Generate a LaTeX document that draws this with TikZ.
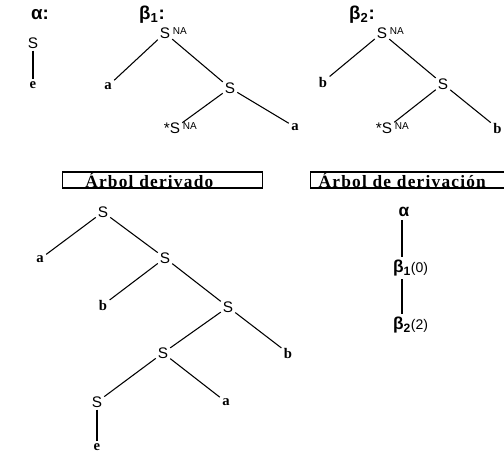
\documentclass[tikz,border=0pt]{standalone}
\usepackage{fontspec}
\setmainfont{Liberation Serif}
\setsansfont{Liberation Sans}
\newfontfamily\lblfont[LetterSpace=7]{Liberation Serif}
\newcommand{\NAsup}{\rlap{\hspace{2pt}\raisebox{0.45ex}{\fontsize{7.5}{8}\selectfont NA}}}
\begin{document}
\begin{tikzpicture}[x=0.75pt,y=-0.75pt,line width=0.8pt,
  snode/.style={font=\sffamily\fontsize{11.5}{12}\selectfont,inner sep=1.2pt},
  leaf/.style={font=\bfseries\fontsize{11}{12}\selectfont,inner sep=1.5pt},
  glbl/.style={font=\sffamily\bfseries\fontsize{14}{15}\selectfont,inner sep=1pt},
  dnode/.style={font=\sffamily\bfseries\fontsize{13}{14}\selectfont,inner sep=2pt},
  tbox/.style={draw,line width=1pt,font=\lblfont\bfseries\fontsize{13}{14}\selectfont,
    minimum height=12pt,align=left,inner ysep=0pt}]
\clip (0,0) rectangle (504,453);
% alpha
\node[glbl] (alab) at (40,15) {α:};
\node[snode] (aS) at (33,43) {S};
\node[leaf] (ae) at (33,85) {e};
\draw (aS) -- (ae);
% beta 1
\node[glbl] (b1lab) at (152,15) {β\textsubscript{1}:};
\node[snode] (b1r) at (165,33) {S\NAsup};
\node[leaf] (b1a) at (108,86) {a};
\node[snode] (b1s) at (230,88) {S};
\node[snode] (b1f) at (175,128) {\llap{*}S\NAsup};
\node[leaf] (b1a2) at (295,127) {a};
\draw (b1r) -- (b1a);
\draw (b1r) -- (b1s);
\draw (b1s) -- (b1f);
\draw (b1s) -- (b1a2);
% beta 2
\node[glbl] (b2lab) at (362,15) {β\textsubscript{2}:};
\node[snode] (b2r) at (382,33) {S\NAsup};
\node[leaf] (b2b) at (323,82) {b};
\node[snode] (b2s) at (443,84) {S};
\node[snode] (b2f) at (387,128) {\llap{*}S\NAsup};
\node[leaf,anchor=east] (b2b2) at (504,128) {b};
\draw (b2r) -- (b2b);
\draw (b2r) -- (b2s);
\draw (b2s) -- (b2f);
\draw (b2s) -- (b2b2);
% boxes
\node[tbox,anchor=west,inner xsep=17pt,text width=116pt] (box1) at (62,180) {Árbol derivado};
\node[tbox,anchor=west,inner xsep=6pt,text width=160pt] (box2) at (310,180) {Árbol de derivación};
% derived tree
\node[snode] (s1) at (103,212) {S};
\node[leaf] (l1) at (40,259) {a};
\node[snode] (s2) at (165,258) {S};
\node[leaf] (l2) at (103,305) {b};
\node[snode] (s3) at (228,307) {S};
\node[snode] (s4) at (163,353) {S};
\node[leaf] (l3) at (288,353) {b};
\node[snode] (s5) at (97,402) {S};
\node[leaf] (l4) at (226,402) {a};
\node[leaf] (l5) at (97,447) {e};
\draw (s1) -- (l1);
\draw (s1) -- (s2);
\draw (s2) -- (l2);
\draw (s2) -- (s3);
\draw (s3) -- (s4);
\draw (s3) -- (l3);
\draw (s4) -- (s5);
\draw (s4) -- (l4);
\draw (s5) -- (l5);
% derivation tree
\node[dnode] (d0) at (404,212) {α};
\node[dnode] (d1) at (402,268) {β\textsubscript{1}\rlap{\mdseries\fontsize{10.5}{11}\selectfont(0)}};
\node[dnode] (d2) at (402,325) {β\textsubscript{2}\rlap{\mdseries\fontsize{10.5}{11}\selectfont(2)}};
\draw (d0.south -| d1) -- (d1.north);
\draw (d1) -- (d2);
\end{tikzpicture}
\end{document}
